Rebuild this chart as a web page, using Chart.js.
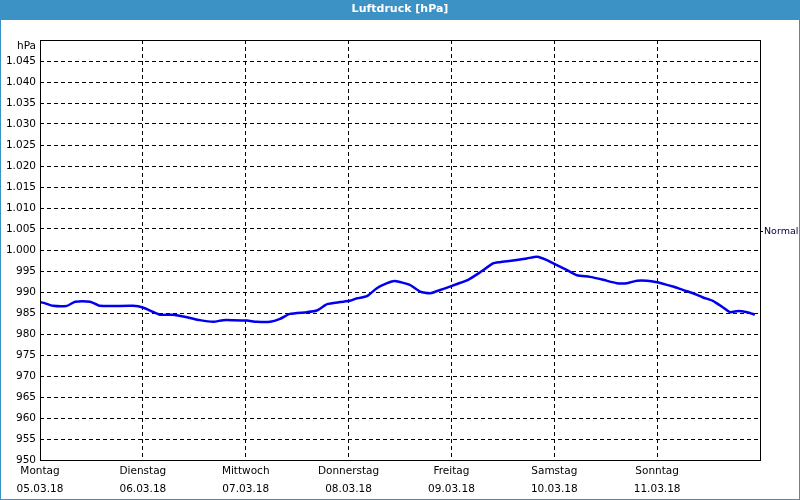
<!DOCTYPE html>
<html>
<head>
<meta charset="utf-8">
<script src="https://cdn.jsdelivr.net/npm/chart.js@4/dist/chart.umd.min.js"></script>
<style>
  html, body { margin: 0; padding: 0; background: #ffffff; }
  #wrap { width: 800px; height: 500px; }
</style>
</head>
<body>
<div id="wrap"><canvas id="pressureChart" width="800" height="500"></canvas></div>
<script>
// hours since Monday 00:00
var hours = [0, 1.2, 3.0, 6.3, 8.2, 11.7, 14.0, 21.7, 24.0, 28.0, 31.0, 34.3, 37.3, 40.4, 42.7, 45.0,
  48.3, 50.6, 53.7, 56.0, 58.3, 62.3, 64.6, 67.0, 70.0, 72.3, 74.0, 76.3, 78.6, 81.0, 82.8, 86.3,
  88.7, 91.0, 94.0, 97.3, 99.9, 102.7, 105.7, 107.3, 110.4, 113.6, 116.0, 118.3, 120.6, 123.0,
  125.3, 128.3, 131.4, 134.6, 137.0, 139.3, 141.6, 144.0, 146.3, 147.7, 150.0, 152.4, 154.7,
  157.0, 159.4, 161.0, 162.9, 165.0, 166.8];
// air pressure in hPa
var pressure = [987.6, 987.3, 986.7, 986.7, 987.7, 987.7, 986.7, 986.7, 986.3, 984.6, 984.6, 984.0,
  983.3, 982.9, 983.3, 983.3, 983.2, 982.9, 982.9, 983.6, 984.8, 985.2, 985.6, 987.1, 987.6, 987.9,
  988.5, 989.0, 990.9, 992.1, 992.6, 991.7, 990.1, 989.7, 990.7, 991.9, 992.9, 994.7, 996.8, 997.1,
  997.5, 998.0, 998.4, 997.6, 996.4, 995.2, 994.0, 993.6, 992.9, 992.1, 992.1, 992.7, 992.7, 992.3,
  991.7, 991.3, 990.5, 989.7, 988.7, 987.9, 986.3, 985.2, 985.5, 985.2, 984.6];
var dayNames = ['Montag', 'Dienstag', 'Mittwoch', 'Donnerstag', 'Freitag', 'Samstag', 'Sonntag'];
var dates = ['05.03.18', '06.03.18', '07.03.18', '08.03.18', '09.03.18', '10.03.18', '11.03.18'];
var normalValue = 1004.3;

var points = hours.map(function (h, i) { return { x: h, y: pressure[i] }; });

// background, title bar and frame
var framePlugin = {
    id: 'frame',
    beforeDraw: function (chart) {
        var c = chart.ctx;
        c.save();
        c.fillStyle = '#ffffff';
        c.fillRect(0, 0, chart.width, chart.height);
        c.fillStyle = '#3c92c4';
        c.fillRect(0, 0, chart.width, 20);
        c.restore();
    },
    afterDraw: function (chart) {
        var c = chart.ctx, a = chart.chartArea;
        c.save();
        c.strokeStyle = '#000000';
        c.lineWidth = 1;
        c.strokeRect(Math.round(a.left) + 0.5, Math.round(a.top) + 0.5,
            Math.round(a.right - a.left), Math.round(a.bottom - a.top));
        c.strokeStyle = '#3c92c4';
        c.strokeRect(0.5, 0.5, chart.width - 1, chart.height - 1);
        c.restore();
    }
};

var ctx = document.getElementById('pressureChart').getContext('2d');

var pressureChart = new Chart(ctx, {
    type: 'line',
    data: {
        datasets: [{
            data: points,
            borderColor: '#0000ee',
            borderWidth: 2.5,
            pointRadius: 0,
            tension: 0.2,
            fill: false
        }]
    },
    options: {
        responsive: false,
        animation: false,
        scales: {
            x: {
                type: 'linear',
                min: 0,
                max: 168,
                afterBuildTicks: function (axis) {
                    axis.ticks = [0, 24, 48, 72, 96, 120, 144, 168].map(function (v) { return { value: v }; });
                },
                afterFit: function (axis) { axis.height = 40; },
                border: { display: false, dash: [4, 3] },
                grid: {
                    color: '#000000',
                    lineWidth: 1,
                    drawTicks: false
                },
                ticks: {
                    padding: 2,
                    maxRotation: 0,
                    autoSkip: false,
                    color: '#000000',
                    font: { family: 'DejaVu Sans', size: 10.5, lineHeight: 1.7 },
                    callback: function (v) {
                        var i = Math.round(v / 24);
                        return i < dayNames.length ? [dayNames[i], dates[i]] : '';
                    }
                }
            },
            y: {
                min: 950,
                max: 1050,
                afterBuildTicks: function (axis) {
                    var t = [];
                    for (var v = 950; v <= 1050; v += 5) t.push({ value: v });
                    axis.ticks = t;
                },
                afterFit: function (axis) { axis.width = 40; },
                border: { display: false, dash: [4, 3] },
                grid: {
                    color: '#000000',
                    lineWidth: 1,
                    drawTicks: false
                },
                ticks: {
                    padding: 4,
                    autoSkip: false,
                    color: '#000000',
                    font: { family: 'DejaVu Sans', size: 10.5, lineHeight: 1.2 },
                    callback: function (v) {
                        if (v === 1050) return ['', 'hPa'];
                        return v >= 1000 ? '1.' + String(v).slice(1) : String(v);
                    }
                }
            },
            normal: {
                type: 'linear',
                position: 'right',
                min: 950,
                max: 1050,
                afterBuildTicks: function (axis) { axis.ticks = [{ value: normalValue }]; },
                afterFit: function (axis) { axis.width = 40; },
                border: { display: false },
                grid: {
                    drawOnChartArea: false,
                    drawTicks: true,
                    tickLength: 3,
                    color: '#000000'
                },
                ticks: {
                    padding: 1,
                    color: '#000040',
                    font: { family: 'DejaVu Sans', size: 9.5 },
                    callback: function () { return 'Normal'; }
                }
            }
        },
        plugins: {
            legend: { display: false },
            tooltip: { enabled: false },
            title: {
                display: true,
                text: 'Luftdruck [hPa]',
                color: '#ffffff',
                font: { family: 'DejaVu Sans', size: 11, weight: 'bold', lineHeight: 1.2 },
                padding: { top: 3, bottom: 23.8 }
            }
        }
    },
    plugins: [framePlugin]
});
</script>
</body>
</html>
